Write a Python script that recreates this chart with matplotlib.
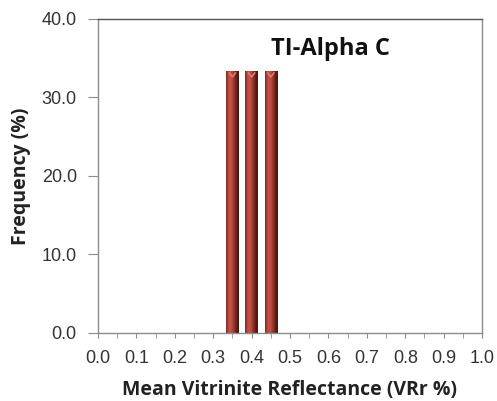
import numpy as np
import matplotlib
matplotlib.use("Agg")
import matplotlib.pyplot as plt
from matplotlib.colors import LinearSegmentedColormap

# Data
vr_bins = [0.35, 0.40, 0.45]
frequency = [33.3, 33.3, 33.3]
title_text = "TI-Alpha C"
x_ticks = [round(0.1 * i, 1) for i in range(11)]
y_ticks = [0, 10, 20, 30, 40]

fig = plt.figure(figsize=(4.97, 4.01), dpi=100)
ax = fig.add_axes([0.197, 0.170, 0.773, 0.783])

cmap = LinearSegmentedColormap.from_list(
    "cyl", ["#7a2820", "#b8483d", "#c4554a", "#b4453a", "#8a3027", "#5e1d17", "#4a1410"])
grad = np.linspace(0, 1, 64).reshape(1, -1)
w = 0.032
for x, h in zip(vr_bins, frequency):
    ax.imshow(grad, cmap=cmap, aspect="auto", extent=[x - w / 2, x + w / 2, 0, h],
              zorder=2, interpolation="bilinear")
    ax.plot([x - w * 0.25, x, x + w * 0.25], [h - 0.2, h - 0.7, h - 0.2],
            color="#e07a70", lw=1.2, zorder=3)

ax.set_xlim(0, 1.0)
ax.set_ylim(0, 40)
ax.set_xticks(x_ticks)
ax.set_xticklabels([f"{t:.1f}" for t in x_ticks])
ax.set_xticks(np.arange(0, 1.0001, 0.05), minor=True)
ax.set_yticks(y_ticks)
ax.set_yticklabels([f"{t:.1f}" for t in y_ticks])

for s in ax.spines.values():
    s.set_color("#8c8c8c")
    s.set_linewidth(1.0)
ax.spines["top"].set_color("#555555")

ax.tick_params(axis="x", which="both", direction="out", length=3.6, color="#8c8c8c",
               labelsize=13, pad=9, labelcolor="#333333")
ax.tick_params(axis="y", which="major", direction="out", length=7.2, color="#8c8c8c",
               labelsize=13, pad=8, labelcolor="#333333")
for lab in ax.get_xticklabels() + ax.get_yticklabels():
    lab.set_fontfamily("Liberation Sans")

ax.set_xlabel("Mean Vitrinite Reflectance (VRr %)", fontsize=14, fontweight="bold",
              fontfamily="Open Sans", labelpad=9, color="#222222")
ax.set_ylabel("Frequency (%)", fontsize=14, fontweight="bold",
              fontfamily="Open Sans", labelpad=8, color="#222222")
ax.text(0.604, 0.904, title_text, transform=ax.transAxes, ha="center", va="center",
        fontsize=17, fontweight="bold", fontfamily="Open Sans", color="#111111")

fig.savefig("out.png", dpi=100)
